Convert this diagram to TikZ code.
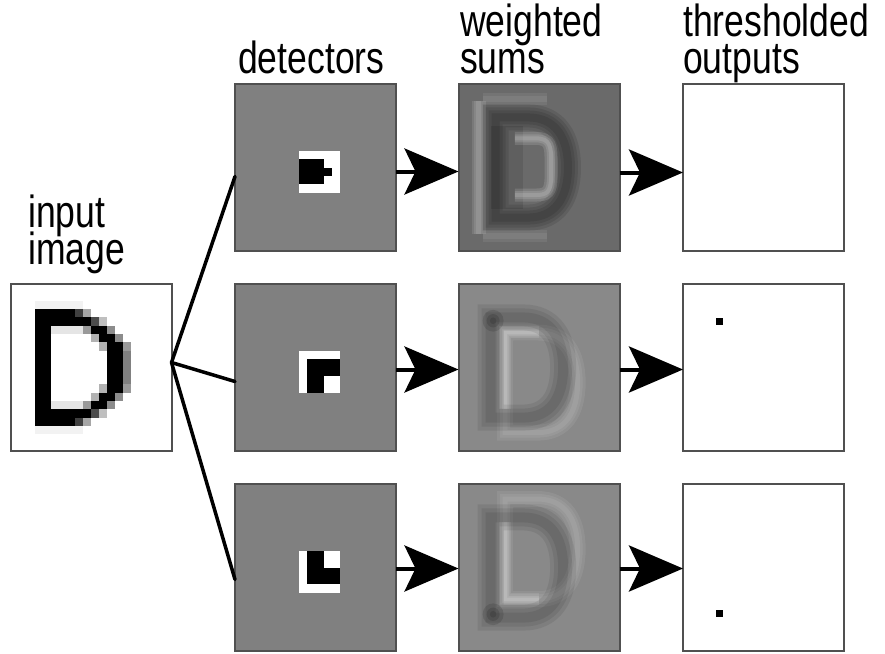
\documentclass[tikz,border=0pt]{standalone}
\usepackage{fontspec}
\setmainfont{Liberation Sans}[FakeStretch=0.79]
\usetikzlibrary{arrows.meta,calc}
\definecolor{FrameGray}{RGB}{80,80,80}
\definecolor{DetGray}{RGB}{128,128,128}
\definecolor{SumDark}{RGB}{106,106,106}
\definecolor{SumMid}{RGB}{137,137,137}
\newcommand{\lblfont}{\fontsize{45}{37}\selectfont\setlength{\lineskiplimit}{-40pt}}

\tikzset{
  imgbox/.style={draw=FrameGray, line width=2pt, minimum width=161pt, minimum height=167pt, inner sep=0pt, outer sep=0pt},
  flow/.style={line width=4pt, -{Stealth[length=54pt,width=46pt,inset=11pt]}},
  fan/.style={line width=3.5pt, line cap=round},
  lbl/.style={font=\lblfont, anchor=base west, inner sep=0pt, align=left},
  pix/.style={x=8.05pt, y=-8.35pt},
}
% letter D on the 20x20 grid (centre line of the strokes)
\def\dpath{(4,4) -- (8,4) .. controls (11.5,4) and (13,6.5) .. (13,10) .. controls (13,13.5) and (11.5,16) .. (8,16) -- (4,16) -- cycle}

\begin{document}
\begin{tikzpicture}[x=1pt, y=-1pt]
    \useasboundingbox (0,0) rectangle (885,653);

    % boxes
    \node[imgbox, fill=white] (img) at (91,367.5) {};
    \node[imgbox, fill=DetGray] (d1) at (315.5,167.5) {};
    \node[imgbox, fill=DetGray] (d2) at (315.5,367.5) {};
    \node[imgbox, fill=DetGray] (d3) at (315.5,567.5) {};
    \node[imgbox, fill=SumDark] (w1) at (539,167.5) {};
    \node[imgbox, fill=SumMid] (w2) at (539,367.5) {};
    \node[imgbox, fill=SumMid] (w3) at (539,567.5) {};
    \node[imgbox, fill=white] (t1) at (763.5,167.5) {};
    \node[imgbox, fill=white] (t2) at (763.5,367.5) {};
    \node[imgbox, fill=white] (t3) at (763.5,567.5) {};

    % labels
    \node[lbl] (lblin) at (28,264) {input\\image};
    \node[lbl] (lbldet) at (238,73) {detectors};
    \node[lbl] (lblsum) at (460,73) {weighted\\sums};
    \node[lbl] (lblout) at (683,73) {thresholded\\outputs};

    % input image
    \begin{scope}[shift={(img.north west)}, pix]
        \fill[black!5] (3,2) rectangle (9,3);
        \fill[black!5] (3,17) rectangle (9,18);
        \fill[black!10] (5,5) rectangle (9,6);
        \fill[black!10] (5,14) rectangle (9,15);
        \fill (3,3) rectangle (5,17);
        \fill (5,3) rectangle (8,4);
        \fill (5,4) rectangle (10,5);
        \fill (5,15) rectangle (10,16);
        \fill (5,16) rectangle (8,17);
        \fill (12,7) rectangle (14,13);
        \fill[black!50] (14,8) rectangle (15,12);
        \foreach \c/\r/\k in {8/3/75, 9/3/35, 10/4/70, 11/4/25,
                9/5/40, 10/5/100, 11/5/100, 12/5/45,
                10/6/30, 11/6/100, 12/6/100, 13/6/45,
                11/7/30, 14/7/40, 11/12/30, 14/12/40,
                10/13/30, 11/13/100, 12/13/100, 13/13/45,
                9/14/40, 10/14/100, 11/14/100, 12/14/45,
                10/15/70, 11/15/25, 8/16/75, 9/16/35}
            \fill[black!\k] (\c,\r) rectangle ++(1,1);
    \end{scope}

    % detectors
    \begin{scope}[shift={(d1.north west)}, pix]
        \fill[white] (8,8) rectangle (13,13);
        \fill (8,9) rectangle (11,12);
        \fill (11,10) rectangle (12,11);
    \end{scope}
    \begin{scope}[shift={(d2.north west)}, pix]
        \fill[white] (8,8) rectangle (13,13);
        \fill (9,9) rectangle (13,11);
        \fill (9,11) rectangle (11,13);
    \end{scope}
    \begin{scope}[shift={(d3.north west)}, pix]
        \fill[white] (8,8) rectangle (13,13);
        \fill (9,8) rectangle (11,12);
        \fill (11,10) rectangle (13,12);
    \end{scope}

    % weighted sums (soft strokes)
    \begin{scope}[shift={(w1.north west)}, pix]
        \clip (0.15,0.15) rectangle (19.85,19.85);
        \foreach \w in {14,9,5}
            \draw[white, opacity=.1, line width=\w pt] (2.5,2) -- (2.5,18);
        \foreach \w in {12,6}
            \draw[white, opacity=.07, line width=\w pt] (3,1.8) -- (11,1.8) (3,18.2) -- (11,18.2);
        \fill[black, opacity=.1] (4,5) rectangle (8,15);
        \foreach \w in {26,20,14,8}
            \draw[black, opacity=.1, line width=\w pt, shift={(0.6,0)}] \dpath;
        \foreach \w in {13,8,4}
            \draw[white, opacity=.13, line width=\w pt] (7,6.5) -- (9.5,6.5) .. controls (11.5,6.5) and (11.5,7.5) .. (11.5,9.5) -- (11.5,11) .. controls (11.5,13) and (11,13.3) .. (9.5,13.3) -- (7,13.3);
    \end{scope}
    \begin{scope}[shift={(w2.north west)}, pix]
        \clip (0.15,0.15) rectangle (19.85,19.85);
        \foreach \w in {16,10,5}
            \draw[white, opacity=.07, line width=\w pt, shift={(1.8,1.8)}] \dpath;
        \foreach \w in {12,7,3}
            \draw[white, opacity=.1, line width=\w pt] (5.8,15) -- (5.8,5.8) -- (10,5.8);
        \foreach \w in {26,18,10}
            \draw[black, opacity=.08, line width=\w pt] \dpath;
        \foreach \r in {1.3,0.8,0.4}
            \fill[black, opacity=.12] (4.3,4.4) circle (\r);
    \end{scope}
    \begin{scope}[shift={(w3.north west)}, pix]
        \clip (0.15,0.15) rectangle (19.85,19.85);
        \foreach \w in {16,10,5}
            \draw[white, opacity=.07, line width=\w pt, shift={(1.8,-2.2)}] \dpath;
        \foreach \w in {12,7,3}
            \draw[white, opacity=.1, line width=\w pt] (5.8,4.5) -- (5.8,13.8) -- (10,13.8);
        \foreach \w in {26,18,10}
            \draw[black, opacity=.08, line width=\w pt] \dpath;
        \foreach \r in {1.3,0.8,0.4}
            \fill[black, opacity=.12] (4.3,15.6) circle (\r);
    \end{scope}

    % thresholded outputs
    \begin{scope}[shift={(t2.north west)}, pix]
        \fill (4.1,4.1) rectangle (4.95,4.95);
    \end{scope}
    \begin{scope}[shift={(t3.north west)}, pix]
        \fill (4.1,15.1) rectangle (4.95,15.95);
    \end{scope}

    % connectors
    \coordinate (split) at ($(img.east)+(0,-5)$);
    \draw[fan] (split) -- ($(d1.west)+(0,9)$);
    \draw[fan] (split) -- ($(d2.west)+(0,14)$);
    \draw[fan] (split) -- ($(d3.west)+(0,12)$);

    \draw[flow] ($(d1.east)+(0,4)$) -- ($(w1.west)+(0,4)$);
    \draw[flow] ($(d2.east)+(0,2)$) -- ($(w2.west)+(0,2)$);
    \draw[flow] ($(d3.east)+(0,1)$) -- ($(w3.west)+(0,1)$);
    \draw[flow] ($(w1.east)+(0,5)$) -- ($(t1.west)+(0,5)$);
    \draw[flow] ($(w2.east)+(0,2)$) -- ($(t2.west)+(0,2)$);
    \draw[flow] ($(w3.east)+(0,1)$) -- ($(t3.west)+(0,1)$);
\end{tikzpicture}
\end{document}
